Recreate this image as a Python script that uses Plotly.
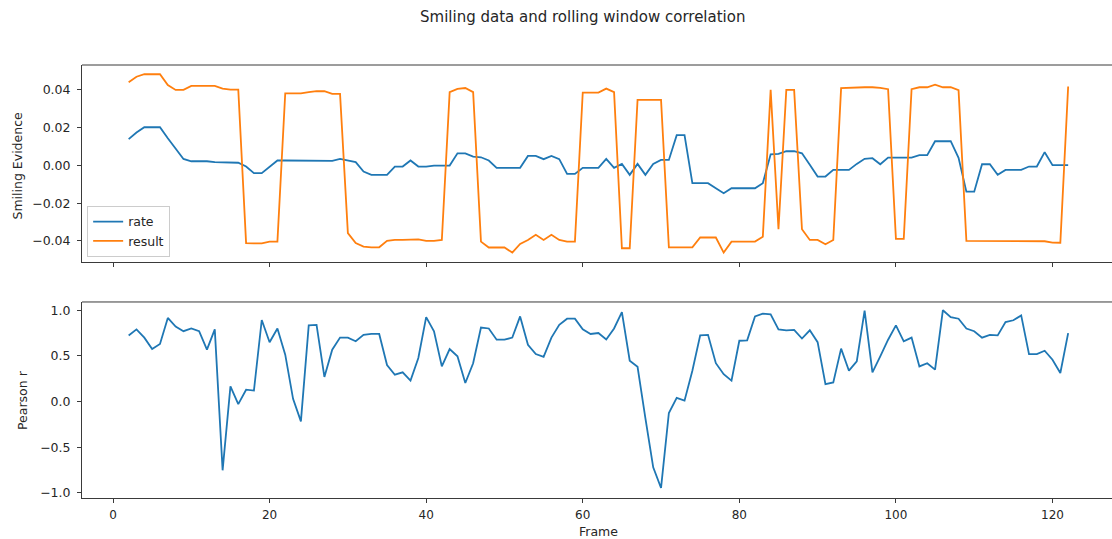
import plotly.graph_objects as go

frames = list(range(2, 123))

rate = [0.0139, 0.0174, 0.0202, 0.0202, 0.0202, 0.0144, 0.0086, 0.0034, 0.0022, 0.0022,
        0.0022, 0.0017, 0.0017, 0.0017, 0.0014, -0.0006, -0.0041, -0.0041, -0.0006, 0.0026,
        0.0026, 0.0026, 0.0022, 0.0022, 0.0022, 0.0022, 0.0024, 0.0034, 0.0026, 0.0017,
        -0.0033, -0.005, -0.005, -0.005, -0.0006, -0.0006, 0.0026, -0.0006, -0.0006, -0.0001,
        -0.0001, -0.0001, 0.0064, 0.0064, 0.0047, 0.0043, 0.0026, -0.0013, -0.0013, -0.0013,
        -0.0013, 0.005, 0.005, 0.0033, 0.005, 0.0033, -0.0045, -0.0045, -0.0013, -0.0013,
        -0.0013, 0.0035, -0.0013, 0.0008, -0.005, 0.0008, -0.005, 0.0008, 0.0029, 0.0029,
        0.016, 0.016, -0.0094, -0.0094, -0.0094, -0.0121, -0.0147, -0.0121, -0.0121, -0.0121,
        -0.0121, -0.0094, 0.0059, 0.0061, 0.0075, 0.0076, 0.0064, 0.0003, -0.0059, -0.0059,
        -0.0024, -0.0024, -0.0024, 0.0008, 0.0035, 0.0038, 0.0006, 0.0041, 0.0041, 0.0041,
        0.0041, 0.0054, 0.0054, 0.0128, 0.0128, 0.0128, 0.0040, -0.0139, -0.0139, 0.0006,
        0.0006, -0.005, -0.0024, -0.0024, -0.0024, -0.0006, -0.0006, 0.007, 0.0001, 0.0001,
        0.0001]

result = [0.0441, 0.047, 0.0483, 0.0483, 0.0483, 0.0426, 0.0400, 0.0400, 0.0421, 0.0421,
          0.0421, 0.0421, 0.0407, 0.0402, 0.0402, -0.0412, -0.0413, -0.0413, -0.0404, -0.0404,
          0.0382, 0.0382, 0.0382, 0.0388, 0.0393, 0.0393, 0.0379, 0.0379, -0.0359, -0.0412,
          -0.043, -0.0434, -0.0434, -0.040, -0.0395, -0.0395, -0.0393, -0.0392, -0.040, -0.040,
          -0.0395, 0.0388, 0.0405, 0.041, 0.0388, -0.0404, -0.0435, -0.0435, -0.0435, -0.0462,
          -0.0416, -0.0395, -0.0368, -0.0395, -0.0368, -0.0395, -0.0404, -0.0404, 0.0386, 0.0386,
          0.0386, 0.0407, 0.0388, -0.0439, -0.0439, 0.0347, 0.0347, 0.0347, 0.0347, -0.0434,
          -0.0434, -0.0434, -0.0434, -0.0382, -0.0382, -0.0382, -0.0462, -0.0404, -0.0404, -0.0404,
          -0.0404, -0.0378, 0.0400, -0.0338, 0.0400, 0.0400, -0.0338, -0.0395, -0.0395, -0.0418,
          -0.0395, 0.0409, 0.0412, 0.0414, 0.0414, 0.0414, 0.0411, 0.0404, -0.0389, -0.0389,
          0.0404, 0.0414, 0.0414, 0.0428, 0.0414, 0.0414, 0.0399, -0.040, -0.040, -0.040,
          -0.040, -0.0401, -0.0402, -0.0402, -0.0402, -0.0402, -0.0402, -0.0402, -0.0409, -0.041,
          0.0418]

pearson = [0.724, 0.79, 0.70, 0.575, 0.63, 0.915, 0.82, 0.77, 0.80, 0.77,
           0.568, 0.79, -0.752, 0.167, -0.027, 0.13, 0.12, 0.893, 0.65, 0.80,
           0.513, 0.03, -0.216, 0.834, 0.84, 0.27, 0.568, 0.70, 0.70, 0.66,
           0.73, 0.74, 0.74, 0.40, 0.294, 0.32, 0.229, 0.477, 0.925, 0.77,
           0.385, 0.575, 0.495, 0.203, 0.42, 0.81, 0.80, 0.677, 0.677, 0.70,
           0.932, 0.622, 0.52, 0.49, 0.70, 0.84, 0.907, 0.907, 0.79, 0.74,
           0.75, 0.68, 0.80, 0.98, 0.447, 0.38, -0.18, -0.72, -0.945, -0.125,
           0.04, 0.01, 0.338, 0.725, 0.73, 0.42, 0.30, 0.229, 0.666, 0.67,
           0.932, 0.962, 0.955, 0.79, 0.78, 0.785, 0.69, 0.78, 0.65, 0.19,
           0.21, 0.58, 0.338, 0.44, 0.995, 0.32, 0.495, 0.677, 0.834, 0.66,
           0.70, 0.385, 0.42, 0.35, 1.0, 0.925, 0.907, 0.80, 0.77, 0.70,
           0.73, 0.725, 0.87, 0.89, 0.943, 0.52, 0.52, 0.556, 0.458, 0.313,
           0.75]

x_ticks = [0, 20, 40, 60, 80, 100, 120]
top_ticks = [-0.04, -0.02, 0.00, 0.02, 0.04]
top_ticktext = ["\u22120.04", "\u22120.02", "0.00", "0.02", "0.04"]
bot_ticks = [-1.0, -0.5, 0.0, 0.5, 1.0]
bot_ticktext = ["\u22121.0", "\u22120.5", "0.0", "0.5", "1.0"]

BLUE = "#1f77b4"
ORANGE = "#ff7f0e"
AX = "#3a3a3a"
TXT = "#262626"
FONT = "DejaVu Sans"

fig = go.Figure()
fig.add_trace(go.Scatter(x=frames, y=rate, mode="lines", name="rate",
                         line=dict(color=BLUE, width=1.8), xaxis="x", yaxis="y"))
fig.add_trace(go.Scatter(x=frames, y=result, mode="lines", name="result",
                         line=dict(color=ORANGE, width=1.8), xaxis="x", yaxis="y"))
fig.add_trace(go.Scatter(x=frames, y=pearson, mode="lines", name="Pearson r",
                         line=dict(color=BLUE, width=1.8), xaxis="x2", yaxis="y2",
                         showlegend=False))

xrange = [-3.96, 127.6]
common_x = dict(range=xrange, tickvals=x_ticks, ticks="outside", ticklen=4, tickwidth=1,
                tickcolor=AX, showline=True, linecolor=AX, linewidth=1, showgrid=False,
                zeroline=False, tickfont=dict(family=FONT, size=12, color=TXT))
common_y = dict(ticks="outside", ticklen=4, tickwidth=1, tickcolor=AX, showline=True,
                linecolor=AX, linewidth=1, showgrid=False, zeroline=False,
                tickfont=dict(family=FONT, size=12.5, color=TXT), ticklabelstandoff=4)

top_dom = [0.545, 1.0]
bot_dom = [0.0, 0.4527]

fig.update_layout(
    width=1112, height=539,
    margin=dict(l=82, r=0, t=65, b=41),
    paper_bgcolor="white", plot_bgcolor="white",
    showlegend=True,
    xaxis=dict(**common_x, domain=[0, 1], anchor="y", showticklabels=False, matches="x2"),
    yaxis=dict(**common_y, domain=top_dom, anchor="x", range=[-0.0512, 0.0532],
               tickvals=top_ticks, ticktext=top_ticktext),
    xaxis2=dict(**common_x, domain=[0, 1], anchor="y2", ticklabelstandoff=2),
    yaxis2=dict(**common_y, domain=bot_dom, anchor="x2", range=[-1.055, 1.09],
                tickvals=bot_ticks, ticktext=bot_ticktext),
    legend=dict(x=0.005, y=0.5566, xanchor="left", yanchor="bottom",
                bgcolor="white", bordercolor="#cccccc", borderwidth=1,
                font=dict(family=FONT, size=12.5, color=TXT),
                itemwidth=30, tracegroupgap=0),
    shapes=[
        dict(type="line", xref="paper", yref="paper", x0=0, x1=1, y0=top_dom[1], y1=top_dom[1],
             line=dict(color=AX, width=1)),
        dict(type="line", xref="paper", yref="paper", x0=0, x1=1, y0=bot_dom[1], y1=bot_dom[1],
             line=dict(color=AX, width=1)),
    ],
    annotations=[
        dict(text="Smiling data and rolling window correlation", xref="paper", yref="paper",
             x=0.4864, y=1.111, xanchor="center", yanchor="middle", showarrow=False,
             font=dict(family=FONT, size=15, color=TXT)),
        dict(text="Smiling Evidence", xref="paper", yref="paper", x=0, xshift=-64,
             y=(top_dom[0] + top_dom[1]) / 2, yshift=-2, xanchor="center", yanchor="middle",
             textangle=-90, showarrow=False, font=dict(family=FONT, size=12.5, color=TXT)),
        dict(text="Pearson r", xref="paper", yref="paper", x=0, xshift=-59,
             y=(bot_dom[0] + bot_dom[1]) / 2, xanchor="center", yanchor="middle",
             textangle=-90, showarrow=False, font=dict(family=FONT, size=12.5, color=TXT)),
        dict(text="Frame", xref="paper", yref="paper", x=0.501, y=-0.0785,
             xanchor="center", yanchor="middle", showarrow=False,
             font=dict(family=FONT, size=12.5, color=TXT)),
    ],
)

fig.write_html("out.html")
